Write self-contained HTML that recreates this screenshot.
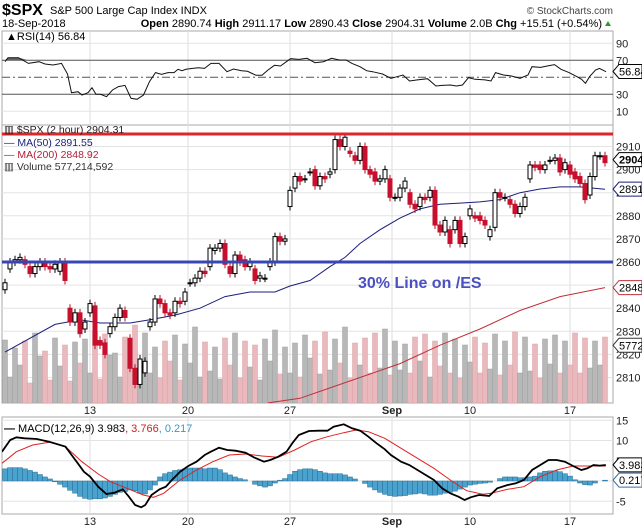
<!DOCTYPE html>
<html><head><meta charset="utf-8"><style>
html,body{margin:0;padding:0;background:#fff;}
svg{display:block;font-family:"Liberation Sans",sans-serif;}
</style></head><body>
<svg id="chart" width="642" height="531" viewBox="0 0 642 531" xmlns="http://www.w3.org/2000/svg">
<defs>
<clipPath id="mainClip"><rect x="2" y="125" width="611" height="278"/></clipPath>
<clipPath id="rsiClip"><rect x="2" y="31" width="611" height="94"/></clipPath>
<clipPath id="macdClip"><rect x="2" y="417" width="611" height="97"/></clipPath>
</defs>
<g>
<text x="2" y="15" font-size="16" font-weight="bold">$SPX</text>
<text x="50" y="14" font-size="11">S&amp;P 500 Large Cap Index INDX</text>
<text x="613" y="14" font-size="10" text-anchor="end" fill="#444">© StockCharts.com</text>
<text x="2" y="27" font-size="11">18-Sep-2018</text>
<text x="602" y="27" font-size="11" text-anchor="end"><tspan font-weight="bold">Open</tspan> 2890.74 <tspan font-weight="bold">High</tspan> 2911.17 <tspan font-weight="bold">Low</tspan> 2890.43 <tspan font-weight="bold">Close</tspan> 2904.31 <tspan font-weight="bold">Volume</tspan> 2.0B <tspan font-weight="bold">Chg</tspan> +15.51 (+0.54%)</text>
<polygon points="605,26 611,26 608,21" fill="#2a9a2a"/>
</g>
<g id="grid"></g>
<g id="rsi"></g>
<g id="main"></g>
<g id="macd"></g>
<g id="labels"></g>
</svg>
<script>
// ---- data ----
const opens = [2848,2857,2860,2861,2861,2858,2855,2858,2860,2858,2857,2856,2860,2840,2834,2838,2831,2838,2841,2826,2825,2829,2832,2836,2839,2827,2814,2807,2812,2832,2834,2844,2842,2838,2838,2843,2843,2851,2851,2853,2856,2858,2865,2866,2868,2858,2855,2863,2861,2858,2857,2853,2853,2858,2860,2871,2869,2884,2892,2897,2896,2899,2900,2893,2897,2898,2900,2913,2910,2908,2906,2904,2910,2900,2899,2895,2896,2896,2888,2888,2892,2890,2885,2884,2888,2888,2891,2876,2873,2874,2874,2878,2868,2880,2880,2880,2878,2871,2875,2890,2888,2887,2885,2881,2884,2896,2902,2902,2900,2904,2904,2905,2900,2902,2899,2897,2894,2889,2897,2906,2906];
const closes = [2851,2860,2861,2862,2859,2855,2858,2860,2858,2857,2859,2860,2852,2834,2838,2829,2834,2842,2824,2824,2820,2832,2836,2840,2836,2814,2807,2818,2817,2834,2844,2842,2838,2837,2843,2842,2847,2851,2853,2856,2855,2866,2866,2868,2859,2855,2863,2860,2858,2860,2852,2854,2853,2860,2871,2869,2870,2891,2897,2895,2896,2899,2893,2897,2896,2899,2913,2910,2914,2907,2904,2910,2900,2898,2895,2896,2900,2888,2888,2892,2895,2885,2883,2888,2887,2891,2876,2873,2878,2868,2878,2868,2871,2883,2879,2878,2876,2874,2890,2888,2888,2885,2881,2884,2888,2902,2901,2900,2902,2904,2905,2899,2903,2898,2896,2894,2887,2897,2906,2906,2903];
const volumes = [630,260,550,380,620,200,700,470,520,230,650,370,580,220,610,400,640,300,720,240,690,480,500,260,660,390,780,280,700,300,560,250,620,420,680,230,590,400,760,260,610,320,560,240,650,380,700,250,620,360,580,230,640,420,730,290,560,300,600,260,680,450,620,290,710,330,640,400,760,250,600,380,650,300,700,350,740,280,620,330,590,300,660,420,690,260,620,370,700,300,640,250,580,410,660,300,600,340,690,280,620,380,710,300,660,320,590,250,640,390,680,300,620,380,700,300,650,350,620,380,660];
const ma50Idx = [0,10,15,19,25,29,34,39,44,49,54,57,61,65,68,71,75,79,83,87,91,95,99,103,107,111,115,120];
const ma50Val = [2821,2833,2835,2833.6,2833.6,2835,2837,2840,2845,2847,2847,2849.6,2852,2858,2862,2868,2874,2879,2883,2885,2885.5,2886,2887,2890,2891.6,2892.5,2892.5,2891.5];
const ma200Idx = [52.6,59,65,71,79,87,95,103,111,120];
const ma200Val = [2799,2801,2805.5,2810,2816,2824,2831,2839,2845,2848.9];
const rsiIdx = [0,0.6,2.7,4.7,6.8,8,9.6,11.3,12.5,13.3,14.6,15.4,16.6,17.4,18.2,19.1,20.3,21.5,22.7,24,25.2,26.4,27.7,28.9,30.1,31.3,32.6,33.8,34.6,35.4,36.2,37.5,38.7,39.9,41.2,42.8,44.4,45.7,47.3,48.5,50.2,51.4,52.6,53.9,55.1,57.1,58.8,60.4,62,63.7,65.3,66.9,68.2,69.4,71,72.3,73.5,75.5,77.2,78.4,79.6,80.9,82.5,84.5,86.2,87.4,89.1,90.3,91.5,92.7,94,96,97.2,98.1,99.7,101.3,103,104.6,105.4,107.1,108.7,109.9,111.2,112.8,114.4,115.3,116.1,116.9,118.1,118.9,120.2];
const rsiVal = [68.4,73.1,73.1,66.4,68.4,65.6,64.5,66.4,53.9,31.9,33.1,29.2,31.9,37.8,30,30,27.2,35.1,39,40.5,25.3,24.1,29.2,44.9,55.5,53.5,55.5,55.5,59.4,57.8,59.4,60.5,61.3,60.5,66.4,66.4,56.6,59.8,57.8,57,52.3,52.3,58.6,64.1,63.3,71.9,71.1,72.3,67.2,68.4,72.3,70.4,70.4,66.4,62.5,57.8,56.6,53.9,48.8,50.7,52.7,45.7,46.9,48.4,39.8,40.5,41,39.8,41,49.6,47.6,46.9,45.7,55.5,52.7,51.5,48.8,52.7,62.5,61.7,63.7,64.9,59.4,55.5,50.7,47.6,42.9,50.7,58.6,60.5,56.6];
const macdZx = [5,25,40,60,90,120,160,175,190,205,220,240,260,280,300,315,330,345,355,370,390,405,420,440,460,480,500,515,535,555,575,600,620,645,660,680,700,715,730,755,780,800,815,840,860,880,900,920,940,955,980,1000,1020,1040,1060,1080,1100,1120,1135,1150,1170,1195,1215,1240,1260,1280,1300,1320,1340,1360,1380,1400,1420,1435,1450,1465,1480];
const macdZy = [155,120,112,115,117,125,140,165,190,215,230,260,282,278,268,290,315,322,315,285,268,260,240,215,198,185,165,155,143,150,152,158,172,185,180,170,155,128,105,93,92,92,80,73,85,92,110,130,148,165,185,195,210,225,240,265,280,290,300,292,285,288,265,255,250,240,210,195,180,180,185,198,210,205,195,197,195];
const sigZx = [5,40,80,120,160,200,240,270,310,350,375,400,440,480,520,560,600,640,680,720,760,800,840,870,900,940,980,1020,1060,1100,1140,1180,1200,1240,1280,1320,1360,1400,1440,1480];
const sigZy = [190,155,135,127,140,185,222,245,265,285,292,280,240,210,185,165,162,168,172,150,125,110,98,90,95,115,145,175,205,240,272,283,280,268,260,230,210,198,198,198];
const hist = [3.0,3.3,3.3,3.3,3.0,2.6,2.2,1.6,1.0,0.5,-0.2,-0.8,-1.5,-2.3,-3.0,-3.8,-4.3,-4.5,-4.4,-4.4,-4.2,-3.8,-3.3,-2.8,-2.6,-2.2,-2.4,-3.0,-3.2,-2.2,-1.0,1.0,1.8,2.2,2.6,2.8,3.0,3.2,3.2,3.2,3.0,3.2,3.2,2.8,2.0,1.5,1.0,0.6,0.3,0,-0.8,-1.2,-1.5,-1.2,-0.5,0.2,0.6,1.6,2.4,2.8,3.0,3.0,2.8,2.4,2.0,1.8,1.8,1.8,1.5,1.0,0.5,0,-0.6,-1.5,-2.2,-2.8,-3.3,-3.6,-3.8,-3.7,-3.6,-3.3,-3.2,-3.0,-3.2,-3.5,-3.5,-3.3,-3.0,-2.8,-2.5,-2.0,-1.5,-1.0,-0.8,-0.6,-0.5,-0.3,0,0.6,1.0,1.0,1.0,0.8,0.8,1.0,1.2,2.0,2.4,2.5,2.5,2.3,1.8,1.2,0.3,-0.5,-0.9,-1.0,-0.5,0,0.2];
const priceTicks = [2910,2900,2890,2880,2870,2860,2850,2840,2830,2820,2810];
const rsiTicks = [90,70,50,30,10];
const macdTicks = [15,10,5,0,-5];
const dateLabels = ["13","20","27","Sep","10","17"];
const dateIdx = [17,36.6,57,77.4,93,113];

// ---- scales ----
const NS = "http://www.w3.org/2000/svg";
const xI = i => 5 + i * 5;
const yP = v => 262 - (v - 2860) * 2.31;
const yR = v => 94.3 - (v - 30) * 0.85;
const yM = v => 481 - v * 4.05;
const volBase = 403, volScale = 0.1;
function mk(tag, attrs, parent) {
  const e = document.createElementNS(NS, tag);
  for (const k in attrs) e.setAttribute(k, attrs[k]);
  parent.appendChild(e);
  return e;
}
const grid = document.getElementById('grid');
const rsiG = document.getElementById('rsi');
const mainG = document.getElementById('main');
const macdG = document.getElementById('macd');
const labG = document.getElementById('labels');

[[31,94],[125,278],[417,97]].forEach(p => {
  const r = mk('rect', {x:2, y:p[0], width:611, height:p[1], fill:'#fff', stroke:'#aaa', 'stroke-width':1}, grid);
  
  
});
dateIdx.forEach(d => {
  [[31,125],[125,403],[417,514]].forEach(p => {
    const l = mk('line', {x1:xI(d), x2:xI(d), y1:p[0], y2:p[1], stroke:'#ddd'}, grid);
    
    
  });
});
priceTicks.forEach(t => {
  const l = mk('line', {x1:2, x2:613, y1:yP(t), y2:yP(t), stroke:'#e3e3e3'}, grid);
  
  
  const tx = mk('text', {x:616, y:yP(t)+4, 'font-size':11, fill:'#222'}, labG);
  tx.textContent = t;
  
  
});
rsiTicks.forEach(t => {
  const isMid = t === 50, isBand = t === 70 || t === 30;
  const l = mk('line', {x1:2, x2:613, y1:yR(t), y2:yR(t), stroke: (isBand || isMid) ? '#555' : '#e3e3e3', 'stroke-dasharray': isMid ? '8,3,2,3' : 'none'}, grid);
  
  
  if (!isMid) {
    const tx = mk('text', {x:616, y:yR(t)+4, 'font-size':11, fill:'#222'}, labG);
    tx.textContent = t;
    
    
  }
});
macdTicks.forEach(t => {
  const l = mk('line', {x1:2, x2:613, y1:yM(t), y2:yM(t), stroke:'#e3e3e3'}, grid);
  
  
  if (t !== 0) {
    const tx = mk('text', {x:616, y:yM(t)+4, 'font-size':11, fill:'#222'}, labG);
    tx.textContent = t;
    
    
  }
});
dateLabels.forEach((d, k) => {
  [410, 521].forEach(y => {
    const tx = mk('text', {x:xI(dateIdx[k]), y:y+4, 'font-size':11, 'text-anchor':'middle', 'font-weight': d === 'Sep' ? 'bold' : 'normal', fill:'#222'}, labG);
    tx.textContent = d;
    
    
  });
});

// ---- RSI ----
const rsiClipG = mk('g', {'clip-path':'url(#rsiClip)'}, rsiG);
let rp = rsiIdx.map((d,k) => (k?'L':'M') + xI(d).toFixed(1) + ',' + yR(rsiVal[k]).toFixed(1)).join(' ');
const rsiFill = mk('path', {d:'M'+xI(0)+','+yR(70)+' '+rsiIdx.slice(0,4).map((d,k)=>'L'+xI(d)+','+Math.min(yR(70),yR(rsiVal[k]))).join(' ')+' Z', fill:'#666'}, rsiClipG);


const rsiLine = mk('path', {d:rp, fill:'none', stroke:'#111', 'stroke-width':1}, rsiClipG);


const rsiLeg = mk('text', {x:6, y:40, 'font-size':11}, rsiG);
rsiLeg.textContent = '▲RSI(14) 56.84';



// ---- main ----
const mc = mk('g', {'clip-path':'url(#mainClip)'}, mainG);
volumes.forEach((v, i) => {
  if (i >= closes.length) return;
  const up = closes[i] >= opens[i];
  const b = mk('rect', {x:xI(i)-2.5, y:volBase - v*volScale, width:5, height:v*volScale, fill: up ? '#b8b8b8' : '#eab9bd', stroke: up ? '#a0a0a0' : '#d9a3a8', 'stroke-width':0.5}, mc);
  
  
});
function linePath(idx, val, yf) {
  return idx.map((d,k) => (k?'L':'M') + xI(d).toFixed(1) + ',' + yf(val[k]).toFixed(1)).join(' ');
}
const ma200 = mk('path', {d:linePath(ma200Idx, ma200Val, yP), fill:'none', stroke:'#c0303a', 'stroke-width':1}, mc);


const ma50 = mk('path', {d:linePath(ma50Idx, ma50Val, yP), fill:'none', stroke:'#1a1f7a', 'stroke-width':1}, mc);


closes.forEach((c, i) => {
  const o = opens[i], up = c >= o;
  const top = yP(Math.max(o,c)), bot = yP(Math.min(o,c));
  const w = mk('line', {x1:xI(i), x2:xI(i), y1:top-4, y2:bot+4, stroke: up ? '#000' : '#b0102a'}, mc);
  
  
  const r = mk('rect', {x:xI(i)-2, y:top, width:4, height:Math.max(1, bot-top), fill: up ? '#fff' : '#c8102e', stroke: up ? '#000' : '#c8102e', 'stroke-width':1}, mc);
  
  
});
const resLine = mk('line', {x1:2, x2:613, y1:yP(2915.4), y2:yP(2915.4), stroke:'#e0252a', 'stroke-width':3}, mainG);


const supLine = mk('line', {x1:2, x2:613, y1:yP(2860), y2:yP(2860), stroke:'#3a45b5', 'stroke-width':3}, mainG);


const ann = mk('text', {x:358, y:288, 'font-size':16, 'font-weight':'bold', fill:'#4a50c0'}, mainG);
ann.textContent = '30% Line on /ES';


[['▥ $SPX (2 hour) 2904.31','#222',133],['— MA(50) 2891.55','#1a1f7a',146],['— MA(200) 2848.92','#b0203a',158],['▥ Volume 577,214,592','#333',170]].forEach(l => {
  const t = mk('text', {x:4, y:l[2], 'font-size':10.5, fill:l[1]}, mainG);
  t.textContent = l[0];
  
  
});
function tag(y, txt, col, bold, name) {
  const g = mk('g', {}, labG);
  
  
  mk('polygon', {points:`613,${y} 619,${y-7} 642,${y-7} 642,${y+7} 619,${y+7}`, fill:'#fff', stroke:col}, g);
  const t = mk('text', {x:619, y:y+4, 'font-size':11, 'font-weight': bold?'bold':'normal', fill:'#000'}, g);
  t.textContent = txt;
}
tag(yP(2904.31), '2904.', '#000', true, 'last-price-tag');
tag(yP(2891.55), '2891.', '#1a1f7a', false, 'ma50-tag');
tag(yP(2848.92), '2848.', '#c0303a', false, 'ma200-tag');
tag(volBase - 577*volScale, '5772', '#333', false, 'volume-tag');

// ---- MACD ----
const mcg = mk('g', {'clip-path':'url(#macdClip)'}, macdG);
hist.forEach((h, i) => {
  const y0 = yM(0), y1 = yM(h);
  const b = mk('rect', {x:xI(i)-2.5, y:Math.min(y0,y1), width:5, height:Math.abs(y1-y0), fill:'#4aa3cf', stroke:'#2a6f94', 'stroke-width':0.5}, mcg);
  
  
});
const zx2i = zx => zx / 12.215 - 1;
const zy2v = zy => (243 - zy) / 12.15;
const sigPath = sigZx.map((z,k) => (k?'L':'M') + xI(zx2i(z)).toFixed(1) + ',' + yM(zy2v(sigZy[k])).toFixed(1)).join(' ');
const macdPath = macdZx.map((z,k) => (k?'L':'M') + xI(zx2i(z)).toFixed(1) + ',' + yM(zy2v(macdZy[k])).toFixed(1)).join(' ');
const sl = mk('path', {d:sigPath, fill:'none', stroke:'#e02020', 'stroke-width':1}, mcg);


const ml = mk('path', {d:macdPath, fill:'none', stroke:'#000', 'stroke-width':1.8}, mcg);


const ml2 = mk('text', {x:4, y:432, 'font-size':11}, macdG);
ml2.innerHTML = '<tspan font-weight="bold">—</tspan> MACD(12,26,9) 3.983<tspan fill="#d02020">, 3.766</tspan><tspan fill="#3a9ac0">, 0.217</tspan>';


tag(yM(3.983), '3.983', '#000', false, 'macd-value-tag');
tag(yM(0.217), '0.217', '#3a6fa0', false, 'histogram-value-tag');
const rt = mk('g', {}, labG);


mk('polygon', {points:`613,${yR(56.84)} 619,${yR(56.84)-7} 642,${yR(56.84)-7} 642,${yR(56.84)+7} 619,${yR(56.84)+7}`, fill:'#fff', stroke:'#000'}, rt);
const rtt = mk('text', {x:619, y:yR(56.84)+4, 'font-size':11}, rt);
rtt.textContent = '56.84';
</script>
</body></html>
